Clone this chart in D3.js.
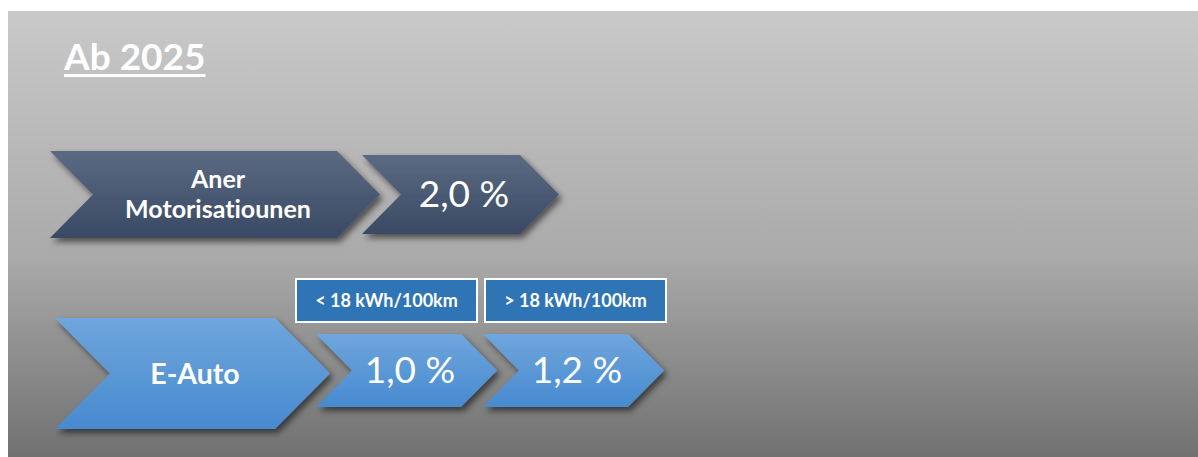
<!DOCTYPE html>
<html><head><meta charset="utf-8">
<script src="https://cdn.jsdelivr.net/npm/d3@7"></script>
<style>html,body{margin:0;padding:0;background:#fff;overflow:hidden} text{font-variant-ligatures:none;font-feature-settings:"liga" 0,"clig" 0}</style>
</head><body>
<svg id="c" width="1198" height="457"></svg>
<script>
// ---- data ----
const title = "Ab 2025";
const rowLabels = [["Aner", "Motorisatiounen"], ["E-Auto"]];
const rowValues = [["2,0 %"], ["1,0 %", "1,2 %"]];
const subLabels = [[], ["< 18 kWh/100km", "> 18 kWh/100km"]];
const rowThemes = ["dark", "light"];

// ---- layout ----
const svg = d3.select("#c");
const defs = svg.append("defs");
const bg = defs.append("linearGradient").attr("id", "bg").attr("x1", 0).attr("y1", 0).attr("x2", 0).attr("y2", 1);
bg.append("stop").attr("offset", 0).attr("stop-color", "#c9c9c9");
bg.append("stop").attr("offset", 0.55).attr("stop-color", "#aaaaaa");
bg.append("stop").attr("offset", 1).attr("stop-color", "#717171");
const gDark = defs.append("linearGradient").attr("id", "dark").attr("x1", 0).attr("y1", 0).attr("x2", 0).attr("y2", 1);
gDark.append("stop").attr("offset", 0).attr("stop-color", "#5b6a82");
gDark.append("stop").attr("offset", 1).attr("stop-color", "#3a4964");
const gLight = defs.append("linearGradient").attr("id", "light").attr("x1", 0).attr("y1", 0).attr("x2", 0).attr("y2", 1);
gLight.append("stop").attr("offset", 0).attr("stop-color", "#6fa6dd");
gLight.append("stop").attr("offset", 1).attr("stop-color", "#478acf");
const f = defs.append("filter").attr("id", "sh").attr("x", "-20%").attr("y", "-20%").attr("width", "140%").attr("height", "150%");
f.append("feDropShadow").attr("dx", 3).attr("dy", 4).attr("stdDeviation", 3).attr("flood-color", "#000").attr("flood-opacity", 0.55);

svg.append("rect").attr("x", 8).attr("y", 11).attr("width", 1190).attr("height", 446).attr("fill", "url(#bg)");

const font = "Lato, 'Open Sans', sans-serif";

// title
const t = svg.append("text").attr("x", 64).attr("y", 70).attr("fill", "#fff")
  .attr("font-family", font).attr("font-weight", 700).attr("font-size", 37).text(title);
const tw = t.node().getComputedTextLength();
svg.append("rect").attr("x", 64).attr("y", 74).attr("width", tw).attr("height", 3).attr("fill", "#fff");

// scales
const yRow = d3.scaleOrdinal().domain([0, 1]).range([194.5, 373.5]);
const yVal = d3.scaleOrdinal().domain([0, 1]).range([194.5, 370.5]);
const headGeom = [{x: 50, w: 330, h: 87, d: 43, cx: 218}, {x: 55, w: 275, h: 111, d: 55, cx: 195}];
const valGeom = [{x0: 362, step: 0, w: 197, h: 79, d: 39, tx: 102}, {x0: 316, step: 167, w: 181, h: 73, d: 36, tx: 94}];

function chevron(x, cy, w, h, d) {
  const y = cy - h / 2;
  return d3.line()([[x, y], [x + w - d, y], [x + w, cy], [x + w - d, y + h], [x, y + h], [x + d, cy]]) + "Z";
}

rowLabels.forEach((lab, i) => {
  const cy = yRow(i);
  const vy = yVal(i);
  const hg = headGeom[i];
  const vg = valGeom[i];
  const xVal = d3.scaleLinear().domain([0, 1]).range([vg.x0, vg.x0 + vg.step]);
  rowValues[i].forEach((v, j) => {
    const x = xVal(j);
    svg.append("path").attr("d", chevron(x, vy, vg.w, vg.h, vg.d)).attr("fill", `url(#${rowThemes[i]})`).attr("filter", "url(#sh)");
    svg.append("text").attr("x", x + vg.tx).attr("y", vy + 12).attr("text-anchor", "middle")
      .attr("fill", "#fff").attr("font-family", font).attr("font-weight", 400).attr("font-size", 37).text(v);
  });
  svg.append("path").attr("d", chevron(hg.x, cy, hg.w, hg.h, hg.d)).attr("fill", `url(#${rowThemes[i]})`).attr("filter", "url(#sh)");
  if (lab.length === 2) {
    lab.forEach((l, k) => svg.append("text").attr("x", hg.cx).attr("y", 188 + k * 30).attr("text-anchor", "middle")
      .attr("fill", "#fff").attr("font-family", font).attr("font-weight", 700).attr("font-size", 25).text(l));
  } else {
    svg.append("text").attr("x", hg.cx).attr("y", cy + 10.5).attr("text-anchor", "middle")
      .attr("fill", "#fff").attr("font-family", font).attr("font-weight", 700).attr("font-size", 28.5).text(lab[0]);
  }
  const xBox = d3.scaleLinear().domain([0, 1]).range([296, 485]);
  subLabels[i].forEach((s, j) => {
    const x = xBox(j);
    svg.append("rect").attr("x", x).attr("y", 279).attr("width", 181).attr("height", 43)
      .attr("fill", "#2f74b5").attr("stroke", "#fff").attr("stroke-width", 2);
    svg.append("text").attr("x", x + 90.5).attr("y", 306.5).attr("text-anchor", "middle")
      .attr("fill", "#fff").attr("font-family", font).attr("font-weight", 700).attr("font-size", 18).text(s);
  });
});
</script>
</body></html>
